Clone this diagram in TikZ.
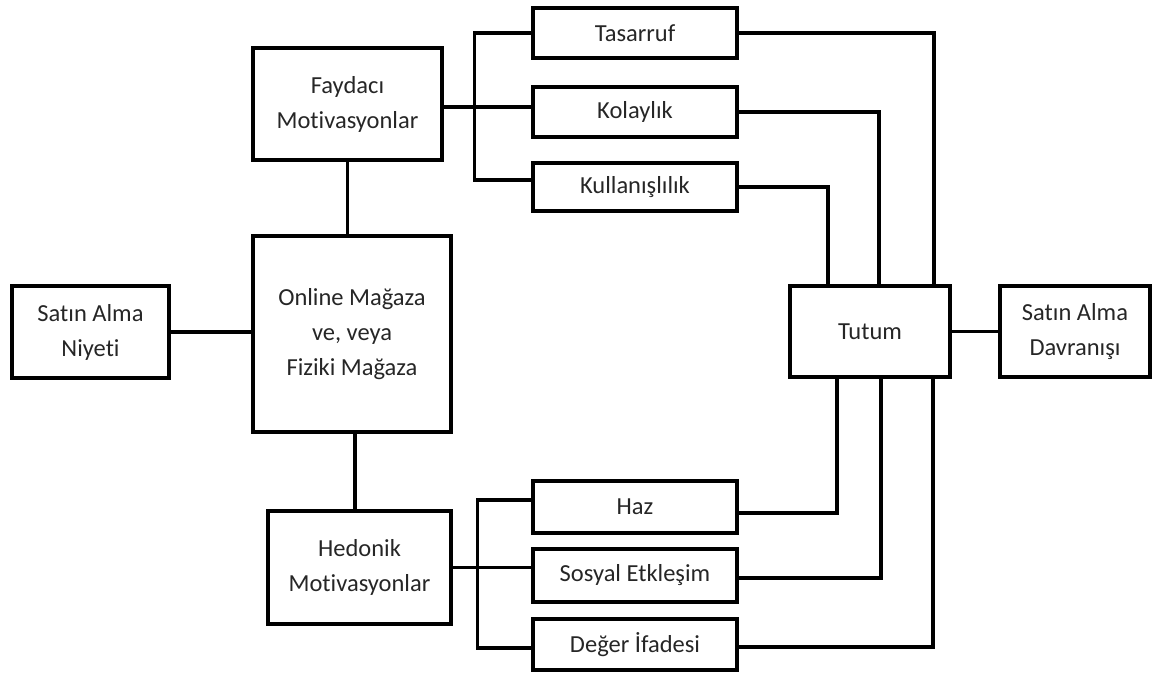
\documentclass[tikz,border=0pt]{standalone}
\usepackage{fontspec}
\setmainfont{Carlito}[Ligatures={NoCommon}]
\begin{document}
\begin{tikzpicture}[x=1pt,y=-1pt,
  box/.style={draw=black,line width=3.5pt,rectangle,inner sep=0pt,align=center,
    font=\fontsize{24.5}{35}\selectfont,text=black!85},
  conn/.style={line width=3.5pt,draw=black}]
\useasboundingbox (0,0) rectangle (1154,673);
% left column
\node[box,minimum width=157pt,minimum height=92pt] (niy) at (90.5,332) {Satın Alma\\Niyeti};
\node[box,minimum width=189pt,minimum height=112pt] (fay) at (347.5,104) {Faydacı\\Motivasyonlar};
\node[box,minimum width=198pt,minimum height=196pt] (onl) at (352,334) {Online Mağaza\\ve, veya\\Fiziki Mağaza};
\node[box,minimum width=183pt,minimum height=113pt] (hed) at (359.5,567.5) {Hedonik\\Motivasyonlar};
% middle column
\node[box,minimum width=204pt,minimum height=50pt] (tas) at (635,33) {Tasarruf};
\node[box,minimum width=204pt,minimum height=50pt] (kol) at (635,112) {Kolaylık};
\node[box,minimum width=204pt,minimum height=48pt] (kul) at (635,187) {Kullanışlılık};
\node[box,minimum width=204pt,minimum height=52pt] (haz) at (635,507) {Haz};
\node[box,minimum width=204pt,minimum height=53pt] (sos) at (635,575.5) {Sosyal Etkleşim};
\node[box,minimum width=204pt,minimum height=51pt] (deg) at (635,644.5) {Değer İfadesi};
% right column
\node[box,minimum width=160pt,minimum height=91pt] (tut) at (870,331.5) {Tutum};
\node[box,minimum width=150pt,minimum height=91pt] (dav) at (1075,331.5) {Satın Alma\\Davranışı};
% left connectors
\draw[conn] (niy.east) -- (niy.east -| onl.west);
\draw[conn] (fay.south) -- (fay.south |- onl.north);
\draw[conn] ([xshift=3pt]onl.south) -- ([xshift=3pt]onl.south |- hed.north);
% Faydaci bus
\draw[conn] ([yshift=-3pt]fay.east) -- ([yshift=-3pt]fay.east -| kol.west);
\draw[conn] (tas.west) -- ++(-57,0) |- ([yshift=7pt]kul.west);
% Hedonik bus
\draw[conn] (hed.east) -- (hed.east -| sos.west);
\draw[conn] ([yshift=7pt]haz.west) -- ++(-54,0) |- ([yshift=-3.5pt]deg.west);
% to Tutum (top)
\draw[conn,line join=miter] (tas.east) -| ([xshift=64pt]tut.north);
\draw[conn,line join=miter] (kol.east) -| ([xshift=9pt]tut.north);
\draw[conn,line join=miter] (kul.east) -| ([xshift=-42pt]tut.north);
% to Tutum (bottom)
\draw[conn,line join=miter] ([yshift=-6pt]haz.east) -| ([xshift=-33pt]tut.south);
\draw[conn,line join=miter] ([yshift=-2.5pt]sos.east) -| ([xshift=11pt]tut.south);
\draw[conn,line join=miter] ([yshift=-2.5pt]deg.east) -| ([xshift=63pt]tut.south);
% Tutum to behaviour
\draw[conn] (tut.east) -- (tut.east -| dav.west);
\end{tikzpicture}
\end{document}
